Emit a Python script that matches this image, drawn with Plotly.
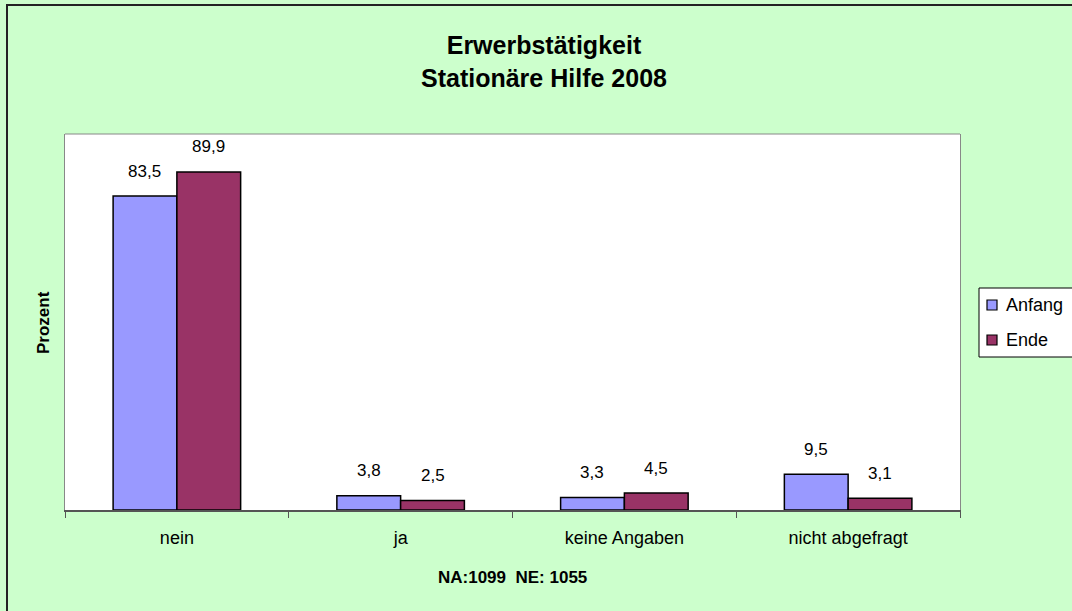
import plotly.graph_objects as go

categories = ["nein", "ja", "keine Angaben", "nicht abgefragt"]
anfang = [83.5, 3.8, 3.3, 9.5]
ende = [89.9, 2.5, 4.5, 3.1]
series_names = ["Anfang", "Ende"]
colors = ["#9999FF", "#993366"]
title_lines = ["Erwerbstätigkeit", "Stationäre Hilfe 2008"]
x_title = "NA:1099  NE: 1055"
y_title = "Prozent"

FONT = "Liberation Sans, Arial, sans-serif"

fig = go.Figure()
for i, (name, vals) in enumerate(zip(series_names, [anfang, ende])):
    fig.add_trace(go.Bar(
        x=categories, y=vals, name=name,
        marker=dict(color=colors[i], line=dict(color="black", width=1.5)),
        showlegend=False,
    ))

# data labels
offs = [-0.143, 0.143]
for i, vals in enumerate([anfang, ende]):
    for j, v in enumerate(vals):
        fig.add_annotation(
            x=j + offs[i], y=v, xref="x", yref="y",
            text=f"{v:.1f}".replace(".", ","), showarrow=False,
            yanchor="middle", yshift=25,
            font=dict(family=FONT, size=17, color="black"),
        )

W, H = 1072, 611
L, R, T, B = 65, 960, 134, 510
pw, ph = R - L, B - T

def px(xp):
    return (xp - L) / pw

def py(yp):
    return (B - yp) / ph

# title
fig.add_annotation(
    x=px(544), y=py(61), xref="paper", yref="paper",
    text="<b>" + title_lines[0] + "<br>" + title_lines[1] + "</b>",
    showarrow=False, xanchor="center", yanchor="middle",
    font=dict(family=FONT, size=25, color="black"),
)
# x title
fig.add_annotation(
    x=px(512), y=py(577), xref="paper", yref="paper",
    text="<b>" + x_title + "</b>", showarrow=False,
    xanchor="center", yanchor="middle",
    font=dict(family=FONT, size=17, color="black"),
)
# y title
fig.add_annotation(
    x=px(43), y=py(323), xref="paper", yref="paper",
    text="<b>" + y_title + "</b>", showarrow=False, textangle=-90,
    xanchor="center", yanchor="middle",
    font=dict(family=FONT, size=17, color="black"),
)

# outer chart border (left/top visible)
fig.add_shape(type="rect", xref="paper", yref="paper",
              x0=px(7), x1=px(1090), y0=py(620), y1=py(5),
              line=dict(color="#222222", width=2), layer="below")
# top border of plot area
fig.add_shape(type="line", xref="paper", yref="paper",
              x0=0, x1=1, y0=1, y1=1,
              line=dict(color="#888888", width=1))

# manual legend (box runs off the right edge like the reference)
fig.add_shape(type="rect", xref="paper", yref="paper",
              x0=px(979), x1=px(1090), y0=py(357), y1=py(288),
              fillcolor="white", line=dict(color="black", width=1))
leg_y = [305, 340]
for i, name in enumerate(series_names):
    fig.add_shape(type="rect", xref="paper", yref="paper",
                  x0=px(987), x1=px(997), y0=py(leg_y[i] + 5), y1=py(leg_y[i] - 5),
                  fillcolor=colors[i], line=dict(color="black", width=1.2))
    fig.add_annotation(
        x=px(1004), y=py(leg_y[i]), xref="paper", yref="paper",
        text=name, showarrow=False, xanchor="left", yanchor="middle",
        font=dict(family=FONT, size=18, color="black"),
    )

fig.update_layout(
    width=W, height=H,
    margin=dict(l=L, r=W - R, t=T, b=H - B, pad=0),
    paper_bgcolor="#CCFFCC", plot_bgcolor="white",
    barmode="group", bargap=0.43, bargroupgap=0,
    font=dict(family=FONT, size=18, color="black"),
    showlegend=False,
    xaxis=dict(
        showline=True, linecolor="#555555", linewidth=1.5,
        ticks="outside", tickson="boundaries", ticklen=6, tickcolor="#555555",
        tickfont=dict(family=FONT, size=18, color="black"),
        ticklabelstandoff=11,
        showgrid=False, zeroline=False,
    ),
    yaxis=dict(
        range=[0, 100], showticklabels=False, showgrid=False, zeroline=False,
        showline=True, mirror=True, linecolor="#888888", linewidth=1, ticks="",
    ),
)

fig.write_html("out.html", config={"displayModeBar": False},
               post_script="document.body.style.margin='0';document.body.style.overflow='hidden';")
